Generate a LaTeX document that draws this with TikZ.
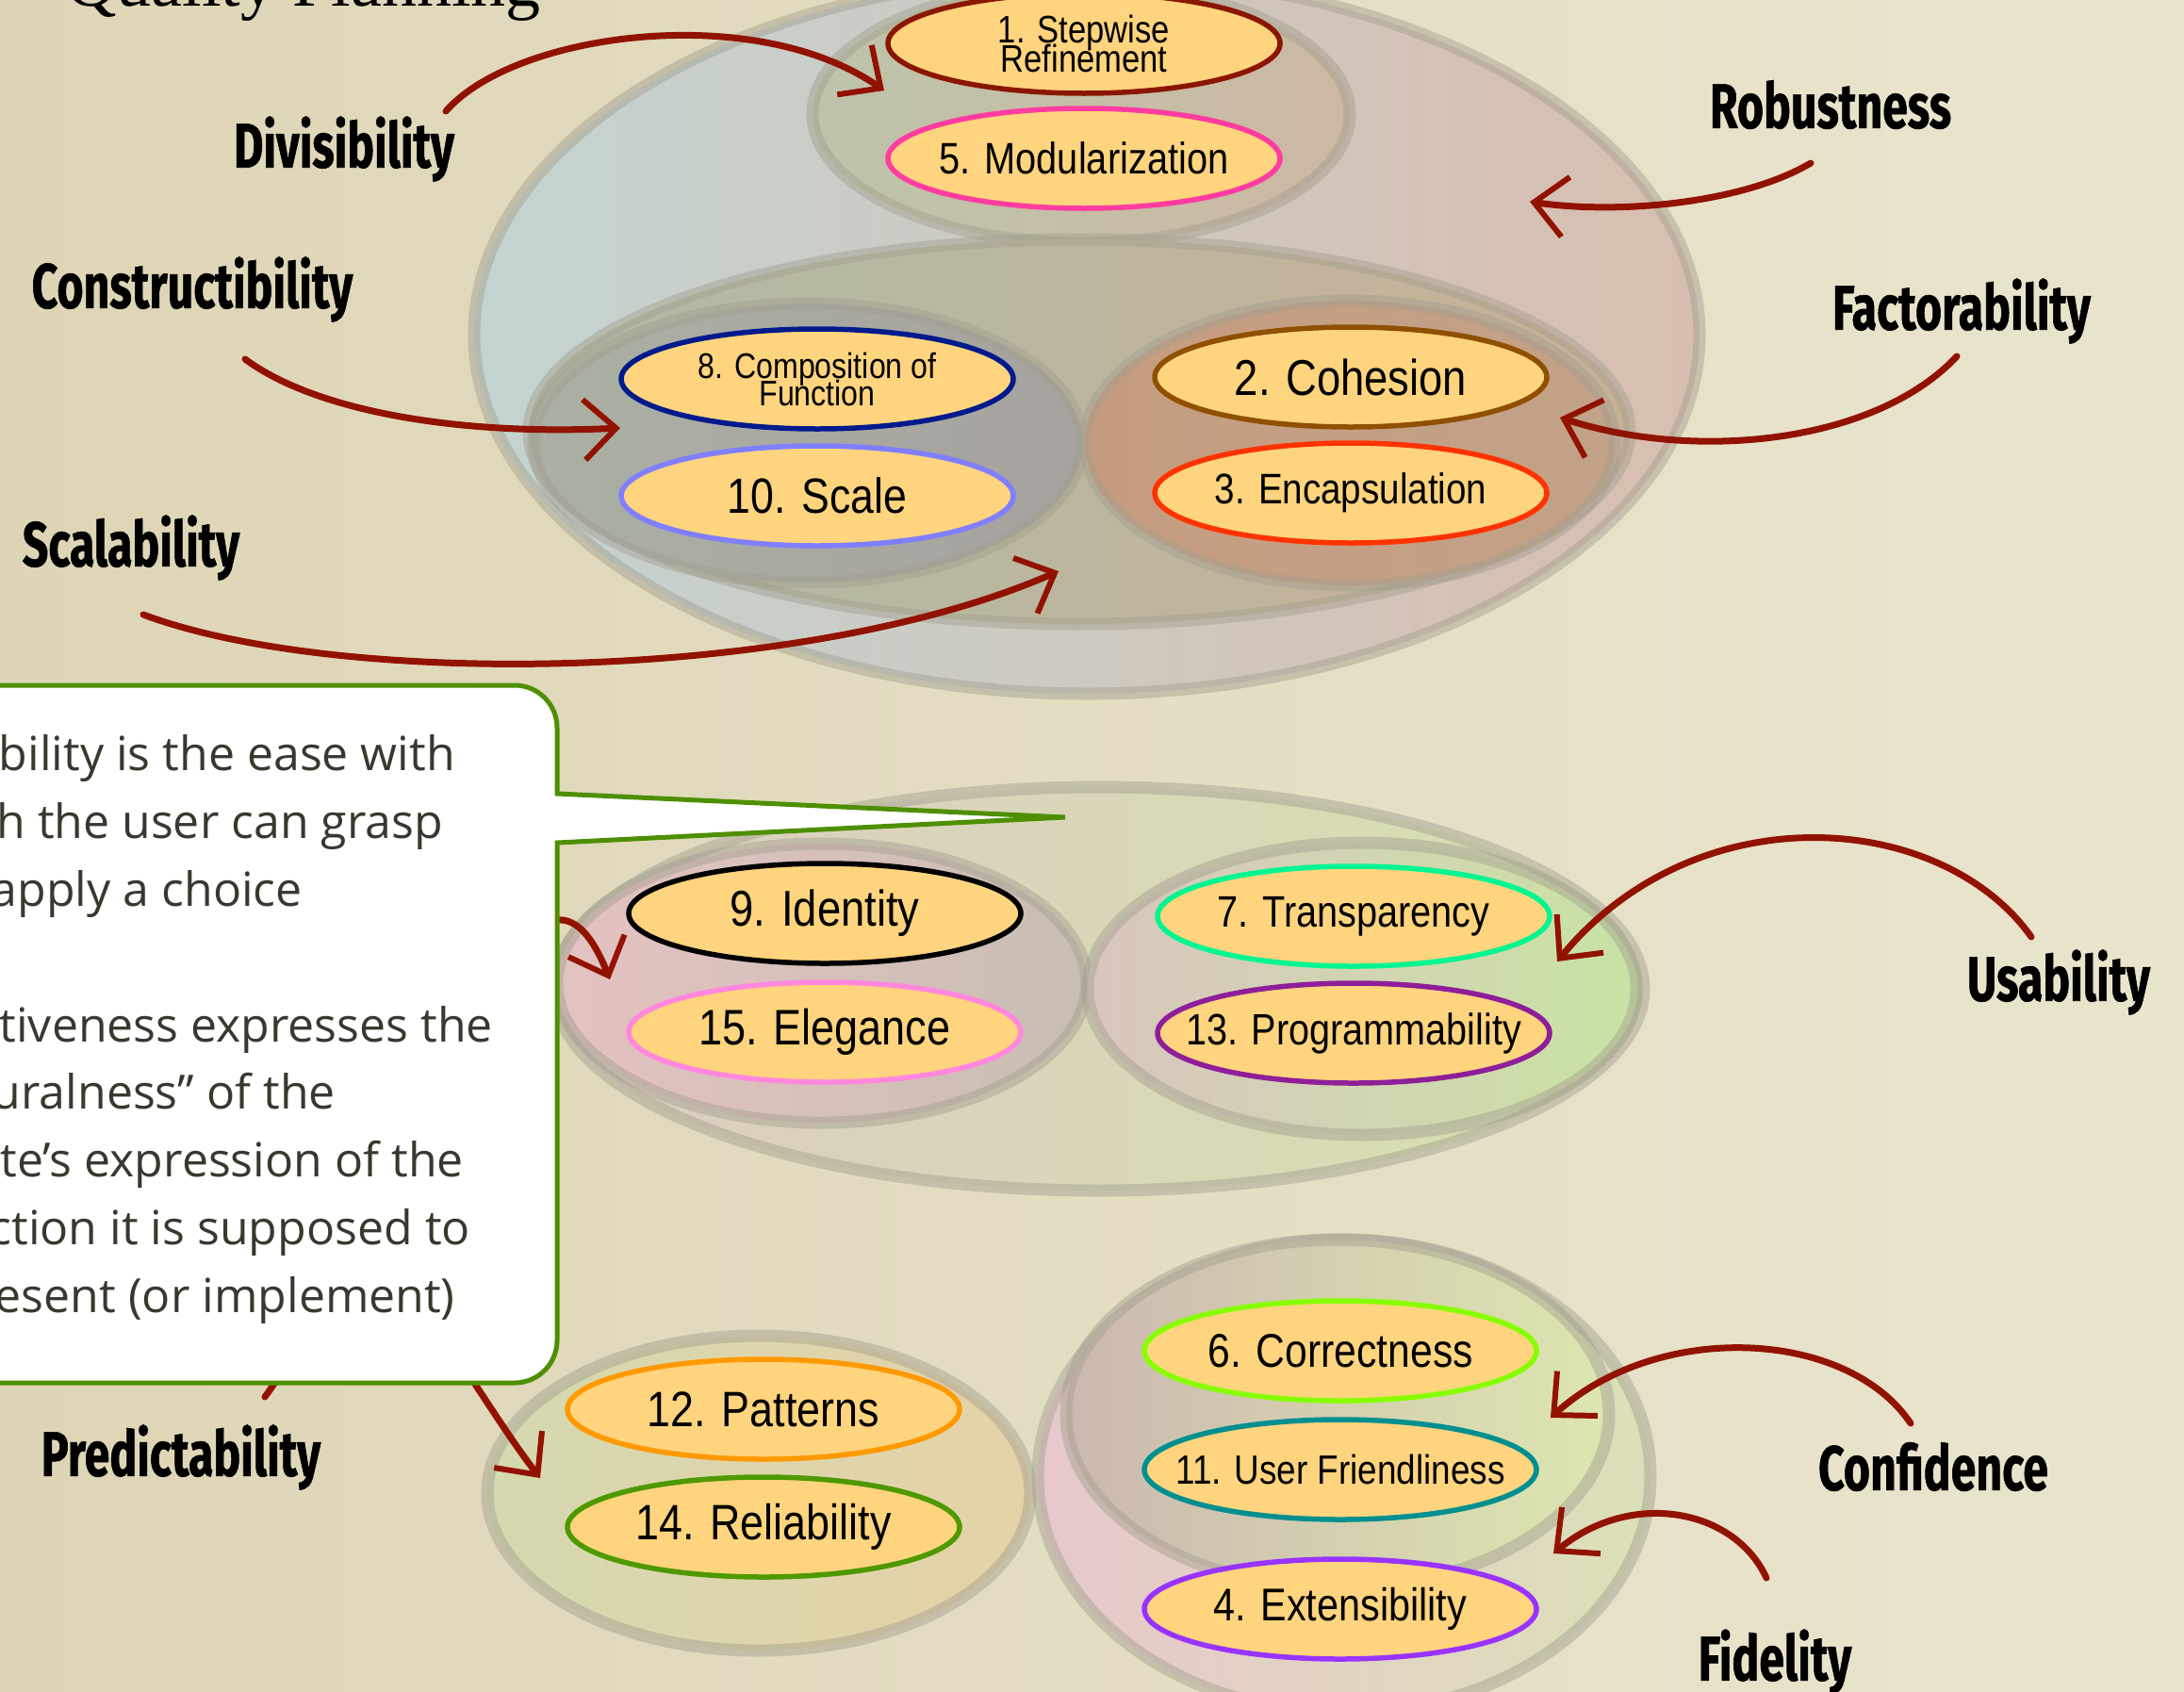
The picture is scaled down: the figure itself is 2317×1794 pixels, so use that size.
\documentclass[tikz,border=0pt]{standalone}
\usepackage{fontspec}
\usetikzlibrary{shapes.geometric,arrows.meta}
\newfontfamily\narrowsans[FakeStretch=0.85]{Liberation Sans}
\newfontfamily\handfont[FakeStretch=0.72,FakeBold=0.8]{Fira Sans}
\newfontfamily\calloutfont{Open Sans}
\newfontfamily\titlefont{Liberation Serif}

\definecolor{bgleft}{HTML}{DED5B6}
\definecolor{bgright}{HTML}{E9E5CD}
\definecolor{pillfill}{HTML}{FFD47E}
\definecolor{bandgrey}{HTML}{A29E8E}
\definecolor{brushred}{HTML}{921200}
\definecolor{calloutgreen}{HTML}{4E8F00}
\definecolor{calltext}{HTML}{3A382E}

% label text that never widens its ellipse; lines separated by \cr
\newcommand\pilltext[1]{\makebox[0pt]{\vbox{\lineskiplimit=-100pt\lineskip=0pt
  \halign{\hfil##\hfil\cr#1\crcr}}}}

\tikzset{
  pill/.style={ellipse, minimum width=416pt, minimum height=106pt, inner sep=0pt,
               fill=pillfill, line width=5.5pt, text=black},
  fs/.style n args={2}{font=\narrowsans\fontsize{#1}{#2}\selectfont},
  tag/.style={font=\handfont\bfseries\fontsize{67}{67}\selectfont, text=black, inner sep=0pt},
  brush/.style={draw=brushred, line width=7pt, line cap=round,
                -{Straight Barb[length=34pt,width=64pt,line width=6pt]}},
  band/.style={draw=bandgrey, draw opacity=0.45, line width=13pt},
  calline/.style={font=\calloutfont\fontsize{50}{50}\selectfont, text=calltext,
                  anchor=base east, inner sep=0pt},
  callout/.style={draw=calloutgreen, line width=5pt, fill=white, line join=miter}
}

\begin{document}
\begin{tikzpicture}[x=1pt, y=-1pt]
  % canvas and background paper
  \useasboundingbox (0,0) rectangle (2317,1794);
  \clip (0,0) rectangle (2317,1794);
  \shade[left color=bgleft, right color=bgright] (0,0) rectangle (2317,1794);

  % heading, mostly above the page edge
  \node[anchor=base west, inner sep=0pt, font=\titlefont\fontsize{74}{74}\selectfont]
    (title) at (70,6) {Quality Planning};

  % ---------- upper group ----------
  \path[band, left color={rgb,255:red,196;green,212;blue,208},
        right color={rgb,255:red,216;green,190;blue,176}]
    (1153,355) ellipse [x radius=650pt, y radius=381pt];
  \path[band, left color={rgb,255:red,190;green,196;blue,170},
        right color={rgb,255:red,204;green,184;blue,163}]
    (1147,121) ellipse [x radius=285pt, y radius=137pt];
  \path[band, left color={rgb,255:red,176;green,186;blue,166},
        right color={rgb,255:red,200;green,178;blue,150}]
    (1145,458) ellipse [x radius=584pt, y radius=204pt];
  \path[band, left color={rgb,255:red,170;green,176;blue,164},
        right color={rgb,255:red,166;green,162;blue,158}]
    (857,470) ellipse [x radius=291pt, y radius=148pt];
  \path[band, left color={rgb,255:red,198;green,156;blue,128},
        right color={rgb,255:red,194;green,162;blue,136}]
    (1432,470) ellipse [x radius=281pt, y radius=151pt];

  % ---------- middle group ----------
  \path[band, left color={rgb,255:red,220;green,206;blue,192},
        right color={rgb,255:red,214;green,224;blue,176}]
    (1166,1049) ellipse [x radius=578pt, y radius=214pt];
  \path[band, left color={rgb,255:red,228;green,194;blue,194},
        right color={rgb,255:red,200;green,190;blue,180}]
    (872,1043) ellipse [x radius=281pt, y radius=148pt];
  \path[band, left color={rgb,255:red,217;green,198;blue,190},
        right color={rgb,255:red,201;green,227;blue,165}]
    (1445,1049) ellipse [x radius=291pt, y radius=155pt];

  % ---------- lower group ----------
  \path[band, left color={rgb,255:red,213;green,217;blue,176},
        right color={rgb,255:red,230;green,210;blue,168}]
    (805,1584) ellipse [x radius=288pt, y radius=167pt];
  \path[band, left color={rgb,255:red,232;green,200;blue,204},
        right color={rgb,255:red,220;green,224;blue,184}]
    (1426,1566) ellipse [x radius=325pt, y radius=251pt];
  \path[band, left color={rgb,255:red,203;green,185;blue,176},
        right color={rgb,255:red,221;green,230;blue,176}]
    (1419,1500) ellipse [x radius=288pt, y radius=185pt];

  % ---------- principles ----------
  \node[pill, draw={rgb,255:red,139;green,22;blue,0}, fs={40.7}{31}] (n1) at (1150,46) {\pilltext{1. Stepwise\cr Refinement}};
  \node[pill, draw={rgb,255:red,255;green,60;blue,160}, fs={46.8}{50}] (n5) at (1150,168) {\pilltext{5. Modularization}};
  \node[pill, draw={rgb,255:red,0;green,26;blue,140}, fs={37.8}{29}] (n8) at (867,402) {\pilltext{8. Composition of\cr Function}};
  \node[pill, draw={rgb,255:red,127;green,127;blue,255}, fs={52.5}{55}] (n10) at (867,526) {\pilltext{10. Scale}};
  \node[pill, draw={rgb,255:red,143;green,80;blue,0}, fs={53.4}{55}] (n2) at (1433,400) {\pilltext{2. Cohesion}};
  \node[pill, draw={rgb,255:red,255;green,51;blue,0}, fs={45.4}{50}] (n3) at (1433,523) {\pilltext{3. Encapsulation}};

  \node[pill, draw=black, fs={53.4}{55}] (n9) at (875,969) {\pilltext{9. Identity}};
  \node[pill, draw={rgb,255:red,255;green,136;blue,221}, fs={53}{55}] (n15) at (875,1095) {\pilltext{15. Elegance}};
  \node[pill, draw={rgb,255:red,0;green,245;blue,144}, fs={46.7}{50}] (n7) at (1436,972) {\pilltext{7. Transparency}};
  \node[pill, draw={rgb,255:red,142;green,31;blue,153}, fs={46.6}{50}] (n13) at (1436,1096) {\pilltext{13. Programmability}};

  \node[pill, draw={rgb,255:red,255;green,153;blue,0}, fs={52.8}{55}] (n12) at (810,1495) {\pilltext{12. Patterns}};
  \node[pill, draw={rgb,255:red,79;green,153;blue,0}, fs={52.8}{55}] (n14) at (810,1620) {\pilltext{14. Reliability}};
  \node[pill, draw={rgb,255:red,136;green,255;blue,0}, fs={50.2}{55}] (n6) at (1422,1433) {\pilltext{6. Correctness}};
  \node[pill, draw={rgb,255:red,0;green,143;blue,143}, fs={43.4}{50}] (n11) at (1422,1559) {\pilltext{11. User Friendliness}};
  \node[pill, draw={rgb,255:red,153;green,51;blue,255}, fs={48.7}{50}] (n4) at (1422,1707) {\pilltext{4. Extensibility}};

  % ---------- qualities ----------
  \node[tag] (divis) at (365,158) {Divisibility};
  \node[tag] (constr) at (204,307) {Constructibility};
  \node[tag] (scal) at (139,581) {Scalability};
  \node[tag] (robust) at (1942,111) {Robustness};
  \node[tag] (factor) at (2081,330) {Factorability};
  \node[tag] (usab) at (2184,1042) {Usability};
  \node[tag] (predict) at (192,1546) {Predictability};
  \node[tag] (confid) at (2051,1556) {Confidence};
  \node[tag] (fidel) at (1883,1763) {Fidelity};

  % ---------- arrow ends ----------
  \coordinate (divT) at (473,118);   \coordinate (divH) at (938,96);
  \coordinate (robT) at (1921,173);  \coordinate (robH) at (1623,214);
  \coordinate (conT) at (260,381);   \coordinate (conH) at (658,454);
  \coordinate (facT) at (2076,378);  \coordinate (facH) at (1655,443);
  \coordinate (scaT) at (152,652);   \coordinate (scaH) at (1123,606);
  \coordinate (usaT) at (2155,994);  \coordinate (usaH) at (1652,1020);
  \coordinate (cfdT) at (2027,1510); \coordinate (cfdH) at (1645,1504);
  \coordinate (fidT) at (1874,1674); \coordinate (fidH) at (1648,1648);
  \coordinate (preT) at (281,1482);  \coordinate (preH) at (647,1039);
  \coordinate (pr2T) at (300,1290);  \coordinate (pr2H) at (573,1568);

  \draw[brush] (divT) .. controls (545,35) and (800,0) .. (divH);
  \draw[brush] (robT) .. controls (1850,215) and (1720,228) .. (robH);
  \draw[brush] (conT) .. controls (340,440) and (500,462) .. (conH);
  \draw[brush] (facT) .. controls (1990,470) and (1800,490) .. (facH);
  \draw[brush] (scaT) .. controls (360,730) and (850,725) .. (scaH);
  \draw[brush] (usaT) .. controls (2060,860) and (1800,840) .. (usaH);
  \draw[brush] (cfdT) .. controls (1960,1410) and (1760,1400) .. (cfdH);
  \draw[brush] (fidT) .. controls (1840,1600) and (1730,1580) .. (fidH);
  \draw[brush] (preT) .. controls (440,1260) and (560,820) .. (preH);
  \draw[brush] (pr2T) .. controls (420,1300) and (490,1460) .. (pr2H);

  % ---------- callout ----------
  \draw[callout] (-60,727) -- (546,727) arc[start angle=90, end angle=0, radius=45pt]
    -- (591,842) -- (1130,867) -- (591,894) -- (591,1422)
    arc[start angle=0, end angle=-90, radius=45pt] -- (-60,1467) -- cycle;

  \node[calline] (c1) at (483,817) {Usability is the ease with};
  \node[calline] (c2) at (470,889) {which the user can grasp};
  \node[calline] (c3) at (321,961) {and apply a choice};
  \node[calline] (c5) at (523,1105) {Intuitiveness expresses the};
  \node[calline] (c6) at (356,1176) {“naturalness” of the};
  \node[calline] (c7) at (492,1248) {te’s expression of the};
  \node[calline] (c8) at (499,1320) {function it is supposed to};
  \node[calline] (c9) at (483,1392) {represent (or implement)};
\end{tikzpicture}
\end{document}
